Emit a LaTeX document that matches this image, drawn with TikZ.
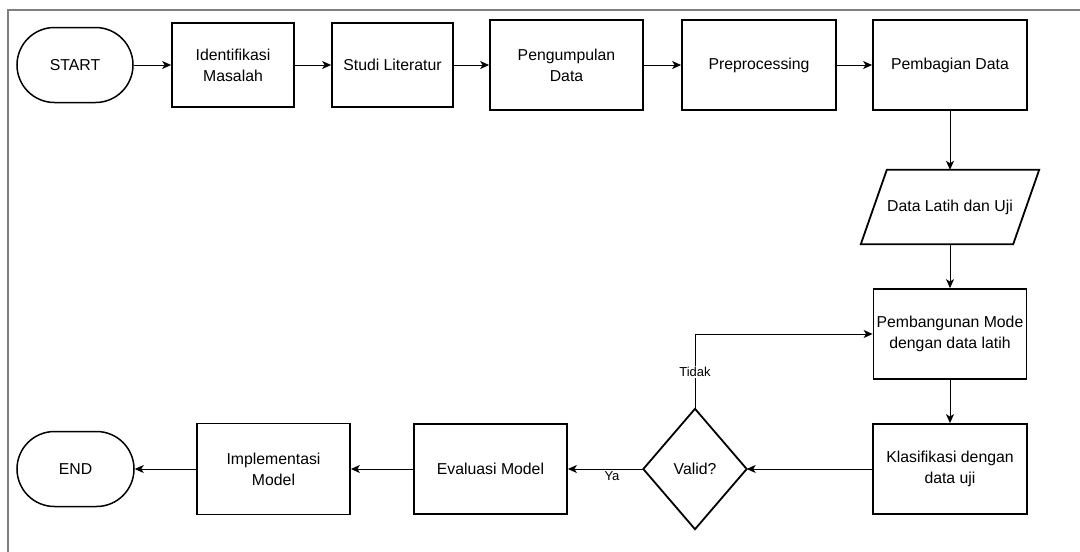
\documentclass[tikz,border=0pt]{standalone}
\usepackage{fontspec}
\setmainfont{Liberation Sans}
\usetikzlibrary{arrows.meta,shapes.misc,calc}
\definecolor{framegray}{HTML}{7F7F7F}
\tikzset{
  every node/.style={font=\fontsize{15.8}{21}\selectfont, align=center, inner sep=0pt},
  procbox/.style={draw=black, line width=1.8pt, rectangle, minimum width=#1, minimum height=90pt},
  procbox/.default=153pt,
  termbox/.style={draw=black, line width=1.5pt, rounded rectangle, rounded rectangle arc length=180, minimum width=116pt, minimum height=75pt},
  ghost/.style={rectangle, draw=none},
  shapeline/.style={draw=black, line width=1.8pt, line join=miter},
  conn/.style={draw=black, line width=1pt, -{Stealth[length=9pt,width=8pt,inset=2.5pt]}},
  lbl/.style={font=\fontsize{13}{15}\selectfont, fill=white, inner sep=1pt},
}
\begin{document}
\begin{tikzpicture}[x=1pt,y=-1pt]
\useasboundingbox (0,0) rectangle (1080,552);
\fill[white] (0,0) rectangle (1080,552);
\draw[framegray, line width=1.5pt] (8,560) -- (8,10) -- (1090,10);

% top row
\node[termbox] (start) at (75,65) {START};
\node[procbox=122pt, minimum height=84pt] (ident) at (233,65) {Identifikasi\\Masalah};
\node[procbox=121pt, minimum height=84pt] (studi) at (392.5,65) {Studi Literatur};
\node[procbox] (peng) at (566.5,65) {Pengumpulan\\Data};
\node[procbox=154pt] (prep) at (759,65) {Preprocessing};
\node[procbox=154pt] (bagi) at (950,65) {Pembagian Data};

% right column
\node[ghost, minimum width=178pt, minimum height=74pt] (dl) at (950,207) {Data Latih dan Uji};
\draw[shapeline] ($(dl.north west)+(26,0)$) -- (dl.north east) -- ($(dl.south east)+(-26,0)$) -- (dl.south west) -- cycle;
\node[procbox] (bangun) at (950,334) {Pembangunan Mode\\dengan data latih};
\node[procbox=154pt] (klas) at (950,469) {Klasifikasi dengan\\data uji};

% bottom row
\node[ghost, minimum width=103pt, minimum height=120pt] (valid) at (695,469) {Valid?};
\draw[shapeline] (valid.north) -- (valid.east) -- (valid.south) -- (valid.west) -- cycle;
\node[procbox] (eval) at (490.5,469) {Evaluasi Model};
\node[procbox, minimum height=91pt] (impl) at (273.5,469) {Implementasi\\Model};
\node[termbox, minimum width=117pt] (end) at (75.5,469) {END};

% connectors
\draw[conn] (start.east) -- (ident.west);
\draw[conn] (ident.east) -- (studi.west);
\draw[conn] (studi.east) -- (peng.west);
\draw[conn] (peng.east) -- (prep.west);
\draw[conn] (prep.east) -- (bagi.west);
\draw[conn] (bagi.south) -- (dl.north);
\draw[conn] (dl.south) -- (bangun.north);
\draw[conn] (bangun.south) -- (klas.north);
\draw[conn] (klas.west) -- (valid.east);
\coordinate (corner) at (valid.north |- bangun.west);
\draw[conn] (valid.north) -- (corner) -- (bangun.west);
\node[lbl] (tidak) at (695,372) {Tidak};
\draw[conn] (valid.west) -- (eval.east);
\node[lbl] (ya) at (612,476) {Ya};
\draw[conn] (eval.west) -- (impl.east);
\draw[conn] (impl.west) -- (end.east);
\end{tikzpicture}
\end{document}
